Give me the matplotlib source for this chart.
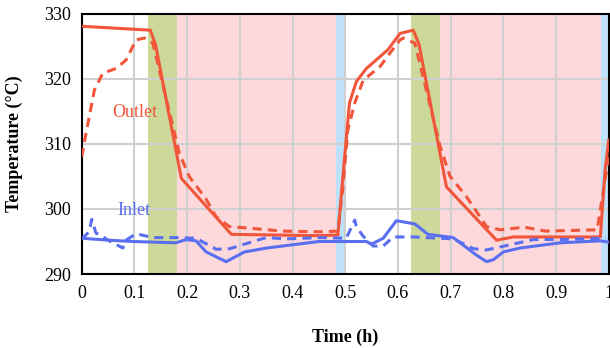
import matplotlib
matplotlib.use('Agg')
import matplotlib.pyplot as plt

# --- dane
outlet_t = [0, 0.13, 0.14, 0.189, 0.284, 0.45, 0.486, 0.495, 0.508, 0.521, 0.54, 0.581, 0.604, 0.629,
            0.64, 0.692, 0.787, 0.819, 0.984, 0.993, 1.0]
outlet_y = [328.1, 327.5, 325.3, 304.7, 296.1, 295.9, 296.0, 304.5, 316.3, 319.6, 321.6, 324.5, 327.0, 327.5,
            325.3, 303.4, 295.2, 295.7, 295.7, 306.0, 310.6]

outlet_m_t = [0, 0.008, 0.024, 0.040, 0.065, 0.084, 0.103, 0.119, 0.135, 0.185, 0.204, 0.236, 0.255,
              0.28, 0.325, 0.38, 0.45, 0.486, 0.495, 0.505, 0.518, 0.534, 0.566, 0.585, 0.604, 0.61,
              0.632, 0.68, 0.699, 0.730, 0.768, 0.794, 0.84, 0.88, 0.978, 0.99, 1.0]
outlet_m_y = [308.0, 311.6, 318.3, 320.9, 321.6, 322.9, 326.0, 326.3, 325.5, 308.6, 305.0, 301.5, 298.8,
              297.3, 297.0, 296.6, 296.5, 296.6, 303.0, 312.2, 316.3, 319.8, 321.9, 324.0, 326.0, 326.3,
              325.5, 309.6, 305.0, 301.9, 297.3, 296.8, 297.2, 296.6, 296.8, 303.0, 308.0]

inlet_t = [0, 0.052, 0.097, 0.179, 0.198, 0.217, 0.236, 0.274, 0.309, 0.351, 0.45, 0.54, 0.55, 0.572,
           0.597, 0.632, 0.657, 0.705, 0.749, 0.768, 0.781, 0.80, 0.832, 0.908, 0.984, 1.0]
inlet_y = [295.5, 295.2, 295.0, 294.8, 295.3, 295.1, 293.4, 291.9, 293.4, 294.0, 295.0, 295.0, 294.6, 295.5,
           298.2, 297.7, 296.1, 295.6, 292.9, 291.9, 292.2, 293.4, 294.0, 294.8, 295.1, 294.9]

inlet_m_t = [0, 0.014, 0.019, 0.027, 0.039, 0.052, 0.078, 0.084, 0.103, 0.135, 0.179, 0.217, 0.255,
             0.281, 0.325, 0.35, 0.388, 0.451, 0.502, 0.518, 0.521, 0.534, 0.553, 0.572, 0.591, 0.629,
             0.705, 0.743, 0.768, 0.813, 0.857, 0.908, 0.995]
inlet_m_y = [295.4, 296.5, 298.4, 296.3, 295.8, 295.1, 294.0, 295.2, 296.2, 295.6, 295.6, 295.5, 293.8,
             293.9, 295.0, 295.6, 295.4, 295.6, 295.5, 298.3, 297.3, 295.8, 294.3, 294.3, 295.7, 295.7,
             295.4, 293.9, 293.7, 294.5, 295.3, 295.3, 295.5]

# fazy cyklu (start, koniec, kolor)
faza_start = [0.125, 0.18, 0.483, 0.625, 0.68, 0.985]
faza_end = [0.18, 0.483, 0.5, 0.68, 0.985, 1.0]
faza_kolor = ['#cdd99a', '#fdd9dc', '#bee1f9', '#cdd99a', '#fdd9dc', '#bee1f9']

xticks = [0, 0.1, 0.2, 0.3, 0.4, 0.5, 0.6, 0.7, 0.8, 0.9, 1.0]
xlabels = ['0', '0.1', '0.2', '0.3', '0.4', '0.5', '0.6', '0.7', '0.8', '0.9', '1']
yticks = [290, 300, 310, 320, 330]

red = '#f2563a'
blue = '#5a6ff0'

plt.rcParams['font.family'] = ['Liberation Serif', 'DejaVu Serif']

fig = plt.figure(figsize=(6.1, 3.48), dpi=100)
ax = fig.add_axes([0.134, 0.2126, 0.864, 0.7474])

for s, e, c in zip(faza_start, faza_end, faza_kolor):
    ax.axvspan(s, e, color=c, lw=0, zorder=0)

ax.grid(True, color='#d0d0d0', lw=1.5, zorder=1)
ax.set_axisbelow(True)

ax.plot(outlet_t, outlet_y, color=red, lw=2.2, zorder=3)
ax.plot(outlet_m_t, outlet_m_y, color=red, lw=2.2, ls=(0, (3, 2)), zorder=3)
ax.plot(inlet_t, inlet_y, color=blue, lw=2.2, zorder=3)
ax.plot(inlet_m_t, inlet_m_y, color=blue, lw=2.2, ls=(0, (3, 2)), zorder=3)

ax.text(0.1, 314.9, 'Outlet', color=red, fontsize=13, ha='center', va='center')
ax.text(0.1, 299.7, 'Inlet', color=blue, fontsize=13, ha='center', va='center')

ax.set_xlim(0, 1)
ax.set_ylim(290, 330)
ax.set_xticks(xticks)
ax.set_xticklabels(xlabels)
ax.set_yticks(yticks)
ax.tick_params(length=0, labelsize=13, pad=8)
for sp in ax.spines.values():
    sp.set_linewidth(1.5)
    sp.set_color('black')

ax.set_xlabel('Time (h)', fontsize=13, fontweight='bold', labelpad=19)
ax.set_ylabel('Temperature (°C)', fontsize=13, fontweight='bold', labelpad=15)

fig.savefig('out.png', dpi=100)
